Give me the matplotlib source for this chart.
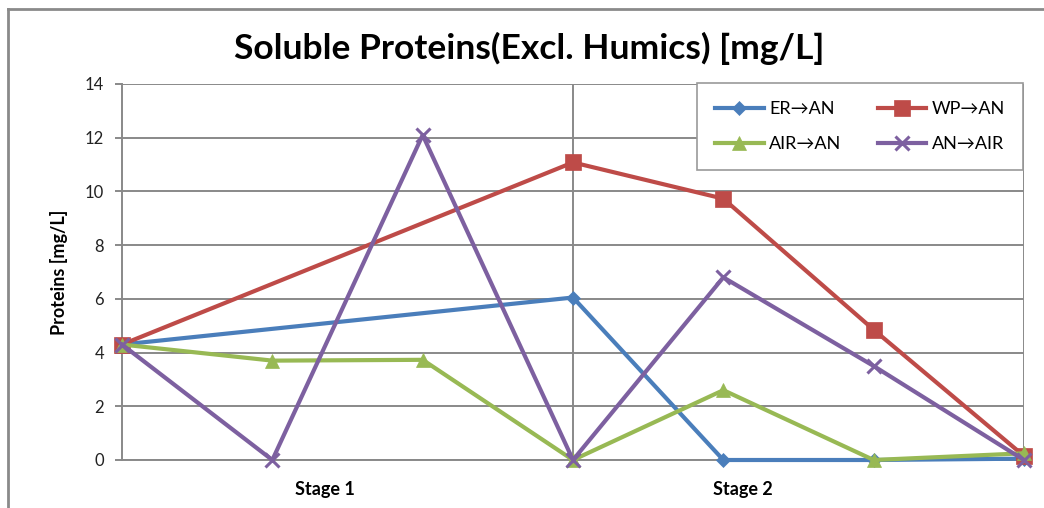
import numpy as np
import matplotlib.pyplot as plt
from matplotlib.lines import Line2D

plt.rcParams['font.family'] = ['Lato', 'DejaVu Sans']

# === Data ===
x_idx = [0, 1, 2, 3, 4, 5, 6]
er_an = [4.3, np.nan, np.nan, 6.05, 0.0, 0.0, 0.05]
wp_an = [4.3, np.nan, np.nan, 11.08, 9.73, 4.85, 0.15]
air_an = [4.3, 3.7, 3.73, 0.0, 2.6, 0.0, 0.25]
an_air = [4.3, 0.0, 12.1, 0.0, 6.8, 3.5, 0.0]

series_names = ["ER→AN", "WP→AN", "AIR→AN", "AN→AIR"]
series_vals = [er_an, wp_an, air_an, an_air]
colors = ["#4A7EBB", "#BE4B48", "#98B954", "#7D60A0"]
markers = ["D", "s", "^", "x"]
msizes = [7, 11, 10, 10]

stage_labels = ["Stage 1", "Stage 2"]
stage_pos = [1.35, 4.13]

W, H = 1044, 508
fig = plt.figure(figsize=(W / 100, H / 100), dpi=100)
ax = fig.add_axes([122 / W, 1 - 460 / H, (1024 - 122) / W, (460 - 84) / H])

grid_c = "#898989"
handles = []
for name, vals, c, m, ms in zip(series_names, series_vals, colors, markers, msizes):
    v = np.array(vals, dtype=float)
    xs = np.array(x_idx)
    ok = ~np.isnan(v)
    h, = ax.plot(xs[ok], v[ok], color=c, lw=3, marker=m, ms=ms,
                 mew=2.2 if m == "x" else 0.5, mec=c, mfc=c, label=name,
                 clip_on=False, zorder=3)
    handles.append(h)

ax.set_xlim(0, 6)
ax.set_ylim(0, 14)
ax.set_yticks(np.arange(0, 15, 2))
ax.yaxis.grid(True, color=grid_c, lw=1.4)
ax.axvline(3, color=grid_c, lw=1.4, zorder=1)
ax.axvline(6, color=grid_c, lw=1.4, zorder=1)
ax.set_axisbelow(True)

for s in ["top", "right"]:
    ax.spines[s].set_visible(False)
for s in ["left", "bottom"]:
    ax.spines[s].set_color(grid_c)
    ax.spines[s].set_linewidth(1.4)

ax.tick_params(axis="y", length=5, width=1.4, color=grid_c, pad=8,
               labelsize=12, labelcolor="#222222")
ax.set_xticks(stage_pos)
ax.set_xticklabels(stage_labels, fontsize=13, fontweight="bold")
ax.tick_params(axis="x", length=0, pad=15)

ax.set_ylabel("Proteins [mg/L]", fontsize=13, fontweight="bold", labelpad=12)

fig.text(529 / W, 1 - 48 / H, "Soluble Proteins(Excl. Humics) [mg/L]",
         ha="center", va="center", fontsize=25.5, fontweight="bold")

# row-wise legend order: ER, WP / AIR, AN->AIR
order = [0, 2, 1, 3]
leg = fig.legend([handles[i] for i in order], [series_names[i] for i in order],
                 loc="upper right", bbox_to_anchor=(1023 / W, 1 - 83 / H),
                 ncol=2, fontsize=13, frameon=True, fancybox=False,
                 edgecolor="#999999", framealpha=1, handlelength=2.7,
                 columnspacing=2.0, borderpad=1.0, labelspacing=1.05,
                 handletextpad=0.3, borderaxespad=0)
leg.get_frame().set_linewidth(1.2)

# outer chart frame (top and left edges visible)
fig.add_artist(Line2D([8 / W, 8 / W], [0, 1 - 9 / H], color="#8a8a8a", lw=2))
fig.add_artist(Line2D([8 / W, 1], [1 - 9 / H, 1 - 9 / H], color="#8a8a8a", lw=2))

fig.savefig("out.png", dpi=100)
